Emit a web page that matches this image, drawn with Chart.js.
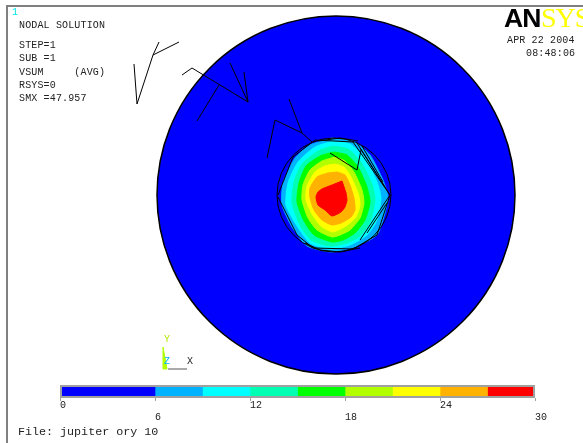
<!DOCTYPE html>
<html>
<head>
<meta charset="utf-8">
<script src="https://cdn.jsdelivr.net/npm/chart.js@4"></script>
<style>
html, body { margin: 0; padding: 0; background: #fff; overflow: hidden; }
#page { position: relative; width: 583px; height: 443px; overflow: hidden; }
#frame { position: absolute; left: 6px; top: 5px; width: 600px; height: 460px; border-left: 2px solid #808080; border-top: 2px solid #808080; }
canvas { position: absolute; left: 0; }
.t { position: absolute; font: 10px "Liberation Mono", monospace; color: #222; white-space: pre; line-height: 12px; letter-spacing: 0.15px; }
#logoA { position: absolute; left: 504px; top: 3px; font: bold 26.5px/30px "Liberation Sans", sans-serif; color: #000; letter-spacing: -1px; }
#logoS { position: absolute; left: 541px; top: 2px; font: 28px/32px "Liberation Serif", serif; color: #ffff00; letter-spacing: -1px; }
</style>
</head>
<body>
<div id="page">
  <div id="frame"></div>
  <canvas id="field" width="583" height="443" style="top:0"></canvas>
  <canvas id="bar" width="583" height="50" style="top:380px"></canvas>
  <div class="t" style="left:12px;top:7px;color:#00e5e5">1</div>
  <div class="t" style="left:19px;top:20px">NODAL SOLUTION</div>
  <div class="t" style="left:19px;top:40px">STEP=1</div>
  <div class="t" style="left:19px;top:53px">SUB =1</div>
  <div class="t" style="left:19px;top:67px">VSUM     (AVG)</div>
  <div class="t" style="left:19px;top:80px">RSYS=0</div>
  <div class="t" style="left:19px;top:93px">SMX =47.957</div>
  <div id="logoA">AN</div>
  <div id="logoS">SYS</div>
  <div class="t" style="left:507px;top:35px">APR 22 2004</div>
  <div class="t" style="left:526px;top:48px">08:48:06</div>
  <div class="t" style="left:164px;top:334px;color:#b2e600">Y</div>
  <div class="t" style="left:164px;top:356px;color:#00b2ff">Z</div>
  <div class="t" style="left:187px;top:356px">X</div>
  <div class="t" style="left:18px;top:426px;font-size:11.7px;letter-spacing:0">File: jupiter ory 10</div>
</div>
<script>
// colour bar
const bandWidths = [6, 3, 3, 3, 3, 3, 3, 3, 3];
const bandColors = ['#0000ff', '#00b2ff', '#00ffff', '#00ffb2', '#00ff00', '#b2ff00', '#ffff00', '#ffb200', '#ff0000'];
const barMax = 30;
const barStep = 6;

// disc and outer ring, picture pixels
const discCenter = [{x: 336, y: 195}];
const ringCenter = [{x: 334, y: 195}];

// contour bands, outermost first
const bandLightBlue = [[332,138],[353,141],[370,155],[383,180],[388,197],[385,213],[377,235],[357,246],[332,252],[307,246],[292,227],[282,205],[283,183],[295,158],[310,145],[332,138]];
const bandCyan = [[333,141],[350,144],[365,158],[377,182],[381,198],[377,220],[367,235],[350,245],[330,249],[310,243],[297,226],[286,205],[288,183],[298,162],[315,147],[333,141]];
const bandAqua = [[333,146],[348,149],[361,162],[372,184],[375,200],[370,222],[360,236],[347,243],[330,246],[311,240],[300,225],[292,203],[294,182],[302,164],[318,151],[333,146]];
const bandGreen = [[334,152],[347,155],[358,167],[367,187],[370,202],[365,220],[355,233],[343,240],[332,242],[314,235],[304,221],[297,202],[299,183],[306,166],[320,156],[334,152]];
const bandLime = [[335,157],[345,161],[354,172],[362,190],[364,203],[360,218],[350,230],[340,235],[332,237],[317,230],[308,218],[302,200],[303,185],[310,170],[322,161],[335,157]];
const bandYellow = [[335,164],[344,167],[351,177],[358,193],[360,205],[356,217],[346,226],[333,232],[321,226],[312,214],[306,200],[307,186],[315,172],[325,166],[335,164]];
const bandOrange = [[337,172],[345,175],[350,185],[354,198],[355,210],[351,217],[341,223],[332,225],[322,220],[314,210],[310,198],[310,188],[317,177],[328,173],[337,172]];
const bandRed = [[342,181],[346,193],[347,200],[345,207],[341,212],[332,216],[325,210],[318,205],[316,197],[318,192],[322,189],[332,185],[342,181]];

// black element edges
const edgeA = [[134,64],[137,104],[153,55],[159,42]];
const edgeB = [[153,55],[179,42]];
const edgeC = [[182,75],[192,68],[248,102],[230,63]];
const edgeD = [[244,72],[248,102]];
const edgeE = [[219,85],[197,121]];
const edgeF = [[267,158],[275,120],[302,133],[312,142]];
const edgeG = [[302,133],[289,99]];
const edgeH = [[330,153],[357,170],[361,150]];
const edgeI = [[278,195],[293,157],[315,140],[353,142],[390,195],[377,235],[353,249],[313,248],[297,235],[278,197]];
const edgeJ = [[357,143],[390,195],[360,240]];
const edgeK = [[360,148],[385,187]];
const edgeL = [[367,233],[387,203]];
const edgeM = [[362,146],[383,182]];
const edgeN = [[305,243],[320,250],[340,252],[360,248]];
const edgeO = [[318,141],[340,138],[358,141]];

// axis triad
const triadY = [[163,347],[167,369],[163,369],[163,347]];
const triadX = [[168,369],[187,369]];

const toPoints = pts => pts.map(p => ({x: p[0], y: p[1]}));

const bandSets = [bandLightBlue, bandCyan, bandAqua, bandGreen, bandLime, bandYellow, bandOrange, bandRed];
const bandSetColors = bandColors.slice(1);
const edgeSets = [edgeA, edgeB, edgeC, edgeD, edgeE, edgeF, edgeG, edgeH, edgeI, edgeJ, edgeK, edgeL, edgeM, edgeN, edgeO];

const datasets = [];
datasets.push({data: discCenter, pointRadius: 179, pointBackgroundColor: '#0000ff', pointBorderColor: '#000', pointBorderWidth: 1.5, showLine: false});
bandSets.forEach((band, i) => {
    datasets.push({data: toPoints(band), showLine: true, fill: 'shape', backgroundColor: bandSetColors[i], borderColor: bandSetColors[i], borderWidth: 1, pointRadius: 0, tension: 0.2});
});
datasets.push({data: ringCenter, pointRadius: 57, pointBackgroundColor: 'rgba(0,0,0,0)', pointBorderColor: '#000', pointBorderWidth: 1, showLine: false});
edgeSets.forEach(edge => {
    datasets.push({data: toPoints(edge), showLine: true, borderColor: '#000', borderWidth: 1, pointRadius: 0, fill: false});
});
datasets.push({data: toPoints(triadY), showLine: true, fill: 'shape', backgroundColor: '#b2ff00', borderColor: '#b2ff00', borderWidth: 1, pointRadius: 0});
datasets.push({data: toPoints(triadX), showLine: true, borderColor: '#555', borderWidth: 1, pointRadius: 0});
// later entries go on top
datasets.forEach((d, i) => { d.order = datasets.length - i; d.clip = false; });

new Chart(document.getElementById('field'), {
    type: 'scatter',
    data: {datasets: datasets},
    options: {
        responsive: false,
        animation: false,
        events: [],
        layout: {padding: 0, autoPadding: false},
        plugins: {legend: {display: false}, tooltip: {enabled: false}},
        scales: {
            x: {type: 'linear', min: 0, max: 583, display: false},
            y: {type: 'linear', min: 0, max: 443, reverse: true, display: false}
        }
    }
});

const barOutline = {
    id: 'barOutline',
    afterDatasetsDraw(chart) {
        const a = chart.chartArea;
        const c = chart.ctx;
        c.save();
        c.strokeStyle = '#a0a0a0';
        c.lineWidth = 2;
        c.strokeRect(a.left + 1, a.top + 1, a.width - 2, a.height - 2);
        c.restore();
    }
};

new Chart(document.getElementById('bar'), {
    type: 'bar',
    data: {
        labels: [''],
        datasets: bandWidths.map((w, i) => ({data: [w], backgroundColor: bandColors[i], borderWidth: 0, barPercentage: 1, categoryPercentage: 1}))
    },
    plugins: [barOutline],
    options: {
        indexAxis: 'y',
        responsive: false,
        animation: false,
        events: [],
        layout: {padding: {left: 60, right: 48, top: 5, bottom: 0}},
        plugins: {legend: {display: false}, tooltip: {enabled: false}},
        scales: {
            y: {stacked: true, display: false},
            x: {
                stacked: true,
                min: 0,
                max: barMax,
                afterFit(scale) { scale.height = 32; },
                border: {display: false},
                grid: {drawOnChartArea: false, color: '#a0a0a0', tickLength: 3},
                ticks: {
                    stepSize: barStep,
                    align: 'start',
                    maxRotation: 0,
                    autoSkip: false,
                    padding: -2,
                    color: '#222',
                    font: {family: '"Liberation Mono", monospace', size: 10, lineHeight: 1.2},
                    callback(value, index) {
                        return index % 2 === 0 ? [String(value), ''] : ['', String(value)];
                    }
                }
            }
        }
    }
});
</script>
</body>
</html>
